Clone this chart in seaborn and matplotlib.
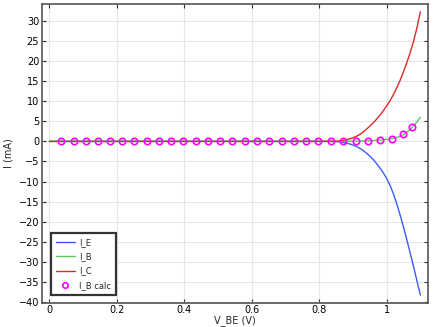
import numpy as np
import pandas as pd
import matplotlib
matplotlib.use("Agg")
import matplotlib.pyplot as plt
import seaborn as sns

# Data
v_be = [0.0, 0.1, 0.2, 0.3, 0.4, 0.5, 0.6, 0.7, 0.8, 0.82, 0.84, 0.85, 0.86, 0.87, 0.88, 0.89,
        0.90, 0.91, 0.92, 0.93, 0.94, 0.95, 0.96, 0.97, 0.98, 0.99, 1.00, 1.01, 1.02,
        1.03, 1.04, 1.05, 1.06, 1.07, 1.08, 1.09, 1.10]
i_e = [0.0, 0.0, 0.0, 0.0, 0.0, 0.0, 0.0, 0.0, -0.01, -0.02, -0.04, -0.07, -0.12, -0.24, -0.4, -0.62,
       -0.9, -1.25, -1.7, -2.25, -2.9, -3.65, -4.5, -5.5, -6.6, -7.8, -9.2, -10.9, -13.0,
       -15.5, -18.3, -21.3, -24.5, -27.8, -31.2, -34.7, -38.2]
i_b = [0.0, 0.0, 0.0, 0.0, 0.0, 0.0, 0.0, 0.0, 0.0, 0.0, 0.0, 0.0, 0.01, 0.01, 0.02, 0.03,
       0.05, 0.06, 0.08, 0.1, 0.13, 0.17, 0.22, 0.28, 0.35, 0.43, 0.52, 0.63, 0.78,
       0.98, 1.28, 1.72, 2.28, 3.0, 3.85, 4.85, 6.0]
i_c = [0.0, 0.0, 0.0, 0.0, 0.0, 0.0, 0.0, 0.0, 0.01, 0.02, 0.04, 0.07, 0.12, 0.24, 0.4, 0.62,
       0.9, 1.25, 1.7, 2.3, 3.0, 3.8, 4.6, 5.5, 6.5, 7.6, 8.8, 10.1, 11.6,
       13.3, 15.2, 17.3, 19.6, 22.1, 24.9, 28.3, 32.2]

calc_v = [0.0356, 0.0723, 0.1088, 0.1443, 0.1808, 0.2155, 0.2519, 0.2887, 0.3251, 0.3607,
          0.3972, 0.4339, 0.4704, 0.5068, 0.5424, 0.5791, 0.6156, 0.6520, 0.6888, 0.7253,
          0.7608, 0.7973, 0.8340, 0.8714, 0.9081, 0.9446, 0.9801, 1.0166, 1.0492, 1.0765]
calc_ib = [0.0] * 23 + [0.01, 0.05, 0.12, 0.33, 0.68, 1.74, 3.6]

x_ticks = [0, 0.2, 0.4, 0.6, 0.8, 1.0]
x_tick_labels = ["0", "0.2", "0.4", "0.6", "0.8", "1"]
y_ticks = list(range(-40, 31, 5))

sns.set_style("whitegrid")
plt.rcParams['font.family'] = ['DejaVu Sans']

fig = plt.figure(figsize=(4.41, 3.27), dpi=100)
ax = fig.add_axes([0.0952, 0.0743, 0.8748, 0.9135])

df = pd.DataFrame({"V": v_be, "I_E": i_e, "I_B": i_b, "I_C": i_c})
sns.lineplot(data=df, x="V", y="I_E", ax=ax, color="#3b5bff", lw=1.0, label="I_E")
sns.lineplot(data=df, x="V", y="I_B", ax=ax, color="#5ac85a", lw=1.0, label="I_B")
sns.lineplot(data=df, x="V", y="I_C", ax=ax, color="#e02828", lw=1.0, label="I_C")
ax.plot(calc_v, calc_ib, ls="none", marker="o", ms=4.6, mfc="none", mec="#ff00ff",
        mew=1.2, label="I_B calc")

ax.set_xlim(-0.022, 1.122)
ax.set_ylim(-40.1, 34.15)
ax.set_xticks(x_ticks)
ax.set_xticklabels(x_tick_labels)
ax.set_yticks(y_ticks)
ax.set_xlabel("V_BE (V)", fontsize=7, labelpad=0)
ax.set_ylabel("I (mA)", fontsize=7, labelpad=4)

ax.grid(True, color="#e6e6e6", lw=0.8)
ax.tick_params(axis="both", which="both", direction="in", length=3, width=0.8,
               labelsize=7, colors="#333333", top=True, right=True, bottom=True, left=True,
               pad=2)
ax.tick_params(labelcolor="black")
for s in ax.spines.values():
    s.set_color("#555555")
    s.set_linewidth(1.2)
    s.set_visible(True)

leg = ax.legend(loc="lower left", bbox_to_anchor=(0.012, 0.012), fontsize=6,
                frameon=True, fancybox=False, handlelength=2.3, borderpad=0.6,
                labelspacing=0.65, handletextpad=0.5, markerscale=0.85)
leg.get_frame().set_edgecolor("#333333")
leg.get_frame().set_linewidth(1.6)
leg.get_frame().set_alpha(1)

fig.savefig("out.png", dpi=100)
